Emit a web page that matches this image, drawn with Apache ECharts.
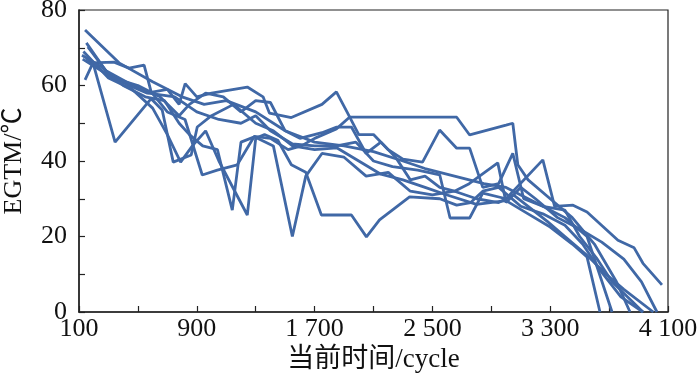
<!DOCTYPE html>
<html><head><meta charset="utf-8">
<script src="https://cdn.jsdelivr.net/npm/echarts@6/dist/echarts.min.js"></script>
<style>html,body{margin:0;padding:0;background:#fff}#c{width:700px;height:381px}</style>
</head><body><div id="c"></div>
<script>
// cycles (x) and EGTM (y) for each engine curve
var s1x = [141, 372, 600, 800, 950, 1100, 1300, 1500, 1700, 1900, 2100, 2300, 2450, 2650, 2850, 3000, 3200, 3400, 3550, 3720];
var s1y = [74.7, 66, 61, 57, 55, 56, 53, 48, 45, 44, 42.5, 40, 38, 36, 34, 33, 29, 25, 20, 0];
var s2x = [141, 195, 345, 590, 665, 740, 862, 903, 1000, 1150, 1300, 1420, 1550, 1700, 1850, 2000, 2150, 2300, 2450, 2600, 2800, 3000, 3150, 3300, 3450, 3550, 3638];
var s2y = [61.5, 66, 45, 56.5, 53.5, 39.7, 41.6, 49, 52, 55, 50, 48, 44, 43, 43.5, 40, 36.5, 35, 33, 31, 28.5, 29.5, 26, 22.5, 18, 14.6, 0];
var s3x = [150, 182, 338, 440, 542, 590, 700, 820, 937, 1039, 1175, 1290, 1400, 1520, 1610, 1700, 1848, 1937, 2665, 2753, 3000, 3046, 3080, 3150, 3300, 3450, 3600, 3750, 3842];
var s3y = [67.3, 66, 66.2, 64.6, 65.4, 58.3, 53, 51, 36.3, 37.6, 39, 46.5, 46, 43, 44, 46, 48.5, 51.6, 51.6, 46.9, 49.5, 50, 39, 35, 30, 25, 18, 8, 0];
var s4x = [160, 300, 440, 560, 700, 780, 821, 900, 1000, 1243, 1350, 1393, 1542, 1750, 1848, 1920, 2000, 2100, 2200, 2300, 2433, 2549, 2665, 2753, 2842, 2950, 3046, 3120, 3250, 3400, 3500, 3620, 3720, 3930];
var s4y = [70.2, 63, 60, 58, 59, 55, 60.5, 57, 58, 59.6, 57, 52.7, 51.5, 55, 58.3, 53, 47, 47, 43, 40.5, 39.7, 48.2, 43.4, 43.4, 33, 34, 42, 30, 28, 27, 20, 14, 8, 0];
var s5x = [120, 250, 400, 550, 680, 780, 850, 940, 1040, 1141, 1200, 1291, 1420, 1549, 1640, 1750, 1900, 2050, 2200, 2350, 2500, 2650, 2800, 2950, 3050, 3150, 3280, 3400, 3550, 3680, 3800, 4000];
var s5y = [68, 65, 60, 57, 56, 50, 47, 44, 43, 27, 45, 46.4, 44, 20, 36, 42, 41, 36, 37, 32, 31, 32, 30, 29, 31, 28, 24, 20, 15, 10, 6, 0];
var s6x = [130, 300, 460, 600, 700, 790, 870, 960, 1050, 1243, 1300, 1360, 1450, 1542, 1640, 1746, 1950, 2052, 2141, 2345, 2550, 2665, 2760, 2842, 2950, 3100, 3250, 3400, 3520, 3640, 3780, 3930];
var s6y = [69, 62, 59, 54, 47, 39.7, 44, 48, 40, 25.7, 46, 47, 45.5, 39, 37, 25.7, 25.7, 19.9, 24.4, 30.5, 30, 28.3, 29, 32, 33, 28, 26, 23, 18, 11, 4, 0];
var s7x = [150, 280, 420, 570, 750, 900, 1050, 1200, 1300, 1400, 1550, 1700, 1850, 1980, 2100, 2229, 2400, 2550, 2620, 2753, 2842, 3000, 3250, 3330, 3455, 3550, 3760, 3870, 3930, 4059];
var s7y = [71.3, 64, 61, 58, 57, 53, 51, 50, 52, 48, 44.5, 44, 44, 45, 40, 38.5, 37.6, 36.3, 24.9, 24.9, 31.5, 30, 40.3, 28, 28.3, 26.5, 19, 17, 12.9, 7.2];
var s8x = [125, 330, 500, 650, 780, 850, 960, 1080, 1200, 1300, 1400, 1500, 1600, 1750, 1850, 1950, 2050, 2150, 2250, 2350, 2450, 2550, 2650, 2750, 2944, 3000, 3100, 3200, 3350, 3500, 3650, 3800, 3920, 4025];
var s8y = [67, 62, 60, 57, 52, 55, 58, 57, 53, 56, 55.5, 48, 46, 47.5, 49, 49, 42, 45, 41, 35, 36, 33, 32, 34, 39.5, 29, 33, 30, 25, 22, 18.5, 14, 8, 0];

var xs = [s1x, s2x, s3x, s4x, s5x, s6x, s7x, s8x];
var ys = [s1y, s2y, s3y, s4y, s5y, s6y, s7y, s8y];

var FONT = '"Liberation Serif", "Noto Sans CJK SC", serif';
function fmtX(v) {
  if ((v - 100) % 800 !== 0) return '';
  var s = String(v);
  return s.length > 3 ? s.slice(0, s.length - 3) + ' ' + s.slice(-3) : s;
}
var series = xs.map(function (x, i) {
  return {
    type: 'line', showSymbol: false, symbol: 'none', animation: false,
    lineStyle: { color: '#4068a6', width: 2.8 },
    data: x.map(function (v, j) { return [v, ys[i][j]]; })
  };
});
var chart = echarts.init(document.getElementById('c'), null, { renderer: 'canvas' });
chart.setOption({
  animation: false,
  grid: { left: 79, right: 32, top: 10, bottom: 69, containLabel: false, outerBoundsMode: 'none', show: true, borderColor: '#222', borderWidth: 1.2, backgroundColor: 'transparent' },
  xAxis: {
    type: 'value', min: 100, max: 4100, interval: 400,
    name: '当前时间/cycle', nameLocation: 'middle', nameGap: 33,
    nameTextStyle: { fontFamily: FONT, fontSize: 27, color: '#111' },
    axisLine: { lineStyle: { color: '#222', width: 1.5 } },
    axisTick: { inside: true, length: 6, lineStyle: { color: '#222', width: 1.2 } },
    axisLabel: { formatter: fmtX, fontFamily: FONT, fontSize: 26, color: '#111', margin: 4 },
    splitLine: { show: false }
  },
  yAxis: {
    type: 'value', min: 0, max: 80, interval: 10,
    name: 'EGTM/℃', nameLocation: 'middle', nameGap: 52,
    nameTextStyle: { fontFamily: FONT, fontSize: 26, color: '#111' },
    axisLine: { show: true, lineStyle: { color: '#222', width: 1.5 } },
    axisTick: { show: true, inside: true, length: 6, lineStyle: { color: '#222', width: 1.2 } },
    axisLabel: { formatter: function (v) { return v % 20 === 0 ? String(v) : ''; }, fontFamily: FONT, fontSize: 26, color: '#111', margin: 12 },
    splitLine: { show: false }
  },
  series: series
});
</script></body></html>
